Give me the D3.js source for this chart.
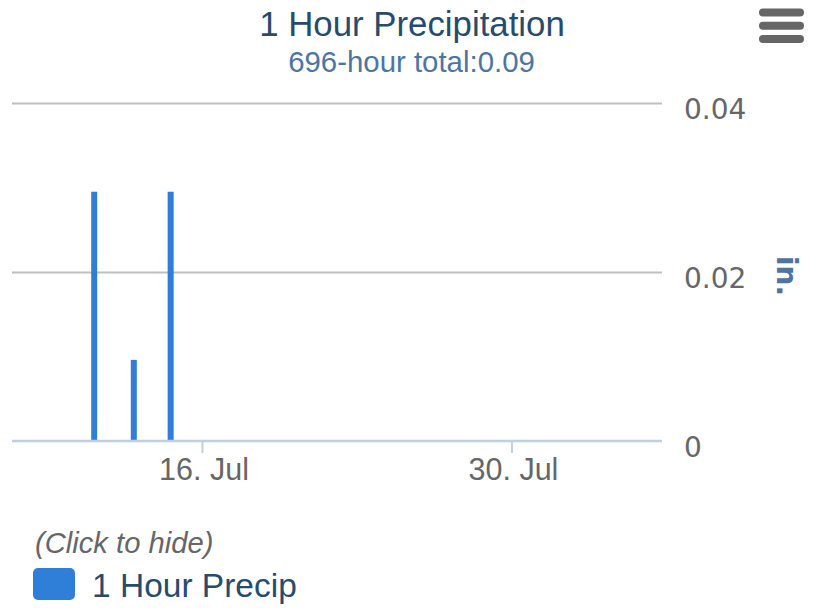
<!DOCTYPE html>
<html>
<head>
<meta charset="utf-8">
<script src="https://cdn.jsdelivr.net/npm/d3@7"></script>
<style>
  html, body { margin: 0; padding: 0; background: #fff; }
  svg { display: block; }
</style>
</head>
<body>
<svg id="chart" width="813" height="608"></svg>
<script>
// ---- data ----
const barTimes = ["2023-07-11T03:00:00Z", "2023-07-12T22:00:00Z", "2023-07-14T14:00:00Z"];
const barValues = [0.0295, 0.0096, 0.0295];
const yTicks = [0, 0.02, 0.04];
const yTickLabels = ["0", "0.02", "0.04"];
const xTicks = ["2023-07-16T00:00:00Z", "2023-07-30T00:00:00Z"];
const xTickLabels = ["16. Jul", "30. Jul"];
const xDomain = ["2023-07-07T09:45:00Z", "2023-08-05T19:25:00Z"];
const titleText = "1 Hour Precipitation";
const subtitleText = "696-hour total:0.09";
const yAxisTitle = "in.";
const seriesName = "1 Hour Precip";
const legendHint = "(Click to hide)";

// ---- layout ----
const W = 813, H = 608;
const plot = { left: 12, right: 662, top: 103, bottom: 441 };
const svg = d3.select("#chart");
const sansFont = "'Liberation Sans', Arial, sans-serif";
const dvFont = "'DejaVu Sans', sans-serif";

const x = d3.scaleUtc()
  .domain(xDomain.map(d => new Date(d)))
  .range([plot.left, plot.right]);
const y = d3.scaleLinear()
  .domain([0, 0.04])
  .range([plot.bottom, plot.top]);

// title & subtitle
svg.append("text")
  .attr("x", 412).attr("y", 35.5)
  .attr("text-anchor", "middle")
  .attr("font-family", sansFont).attr("font-size", 34.8)
  .attr("fill", "#274b6d")
  .text(titleText);
svg.append("text")
  .attr("x", 411.5).attr("y", 72)
  .attr("text-anchor", "middle")
  .attr("font-family", sansFont).attr("font-size", 29.4)
  .attr("fill", "#4d759e")
  .text(subtitleText);

// menu icon
const menu = svg.append("g");
[8.5, 21.7, 35].forEach(yy => {
  menu.append("rect")
    .attr("x", 759).attr("y", yy).attr("width", 45).attr("height", 8)
    .attr("rx", 4).attr("fill", "#666");
});

// gridlines (y axis on the right)
const yAxis = d3.axisRight(y)
  .tickValues(yTicks)
  .tickSize(-(plot.right - plot.left))
  .tickPadding(0)
  .tickFormat((d, i) => yTickLabels[i]);
const gy = svg.append("g")
  .attr("transform", `translate(${plot.right},0)`)
  .call(yAxis);
gy.select(".domain").remove();
gy.selectAll(".tick line")
  .attr("stroke", d => d === 0 ? "none" : "#c0c0c0")
  .attr("stroke-width", 2);
gy.selectAll(".tick text")
  .attr("x", 22).attr("dy", null).attr("y", 15)
  .attr("text-anchor", "start")
  .attr("font-family", dvFont).attr("font-size", 28)
  .attr("fill", "#666");

// y-axis title
svg.append("text")
  .attr("transform", "translate(777,276) rotate(90)")
  .attr("text-anchor", "middle")
  .attr("font-family", dvFont).attr("font-size", 28).attr("font-weight", "bold")
  .attr("fill", "#4d759e")
  .text(yAxisTitle);

// x axis
const xAxis = d3.axisBottom(x)
  .tickValues(xTicks.map(d => new Date(d)))
  .tickSize(12)
  .tickPadding(0)
  .tickFormat((d, i) => xTickLabels[i]);
const gx = svg.append("g")
  .attr("transform", `translate(0,${plot.bottom})`)
  .call(xAxis);
gx.select(".domain").remove();
gx.selectAll(".tick line").attr("stroke", "#c0d0e0").attr("stroke-width", 2);
gx.selectAll(".tick text")
  .attr("x", 1.5)
  .attr("y", 39).attr("dy", null)
  .attr("font-family", sansFont).attr("font-size", 30.5)
  .attr("fill", "#666");

// bars
const barW = 6;
svg.append("g").selectAll("rect")
  .data(barValues.map((v, i) => ({ t: new Date(barTimes[i]), v })))
  .join("rect")
  .attr("x", d => x(d.t) - barW / 2)
  .attr("y", d => y(d.v))
  .attr("width", barW)
  .attr("height", d => y(0) - y(d.v))
  .attr("fill", "#2f7ed8");

// axis line on top
svg.append("line")
  .attr("x1", plot.left).attr("x2", plot.right)
  .attr("y1", y(0)).attr("y2", y(0))
  .attr("stroke", "#c0d0e0").attr("stroke-width", 2.5);

// legend
svg.append("text")
  .attr("x", 35).attr("y", 553)
  .attr("font-family", sansFont).attr("font-size", 29.2).attr("font-style", "italic")
  .attr("fill", "#666")
  .text(legendHint);
svg.append("rect")
  .attr("x", 33).attr("y", 568).attr("width", 42).attr("height", 32).attr("rx", 5)
  .attr("fill", "#2f7ed8");
svg.append("text")
  .attr("x", 92).attr("y", 596.5)
  .attr("font-family", sansFont).attr("font-size", 33.5)
  .attr("fill", "#274b6d")
  .text(seriesName);
</script>
</body>
</html>
